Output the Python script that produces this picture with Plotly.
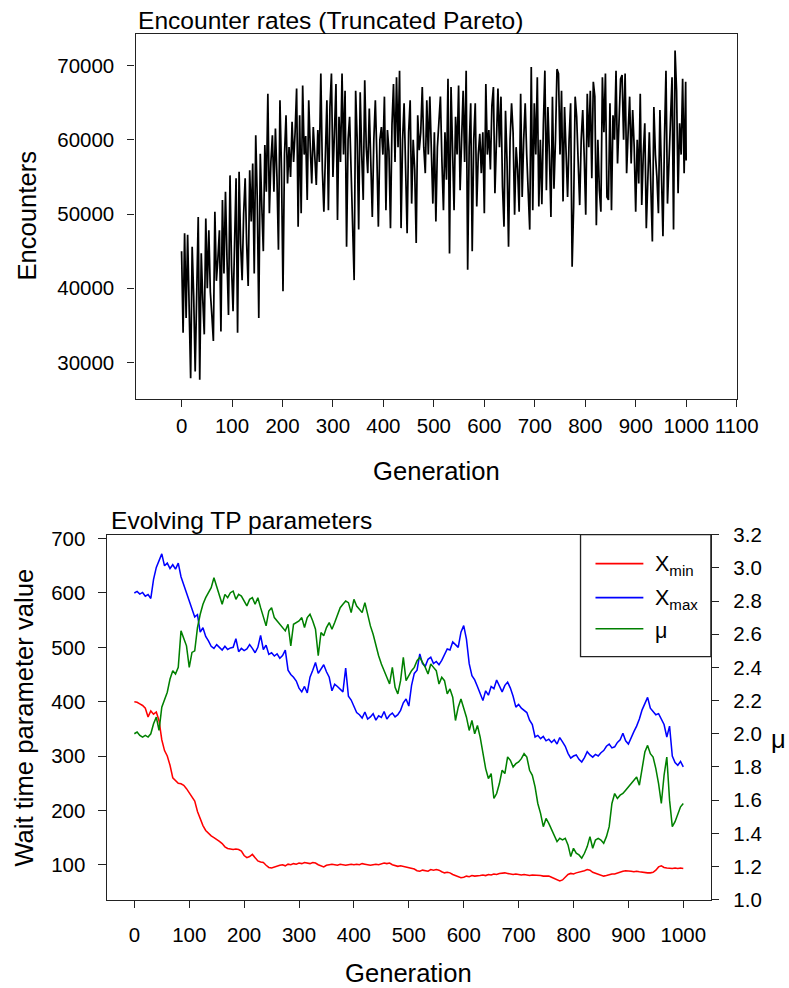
import plotly.graph_objects as go

# ---------------- data ----------------
# Top panel: encounters per generation (every 3rd generation)
gen_top = list(range(0, 1000, 3)) + [1000]
encounters = [
    45000, 34000, 47400, 36000, 47200, 38000, 27900, 45600, 39000, 28800,
    40000, 49600, 27700, 44700, 38500, 33800, 49400, 40000, 47800, 39500,
    36400, 32900, 50300, 41000, 44000, 47800, 34200, 51900, 42000, 53000,
    44000, 36400, 55200, 43000, 36900, 47000, 54800, 34000, 55700, 46000,
    41100, 50000, 54800, 46000, 40300, 55900, 49000, 56800, 42000, 60600,
    52000, 36000, 58100, 51000, 45000, 59300, 53000, 66200, 50100, 57000,
    60600, 53000, 61500, 55000, 45200, 65300, 56000, 39600, 58000, 63300,
    54100, 59000, 55000, 62400, 57000, 61000, 66900, 48300, 63300, 50100,
    67300, 58000, 60500, 51900, 65300, 59000, 54100, 61700, 57500, 53900,
    61300, 57000, 68900, 56000, 50300, 59000, 65300, 50500, 64400, 68900,
    55000, 61000, 67500, 49200, 63100, 57000, 68900, 58000, 66600, 45600,
    60000, 63100, 56000, 49200, 41100, 66600, 60000, 47900, 66400, 58000,
    51900, 68000, 59000, 55500, 64200, 57000, 49600, 60000, 65300, 58000,
    48300, 60000, 61700, 58000, 65800, 50500, 61300, 58500, 48100, 62000,
    67500, 57000, 68400, 59000, 69300, 48100, 60000, 64900, 57000, 47400,
    61000, 65300, 51400, 60000, 56000, 46100, 63300, 58600, 61000, 67100,
    59000, 55500, 65300, 58000, 65800, 60000, 51400, 61000, 49000, 59000,
    63100, 65800, 57000, 50500, 61000, 54600, 68200, 44700, 67100, 58000,
    50500, 63100, 58000, 67300, 53200, 60000, 66600, 57000, 69300, 42500,
    59000, 64900, 45000, 60000, 64900, 51000, 58000, 60800, 55500, 61000,
    50100, 67500, 58000, 61300, 56000, 64600, 67100, 52800, 60000, 66900,
    59000, 65800, 53700, 48300, 63900, 57000, 45600, 60000, 64900, 61000,
    49900, 59000, 56000, 50300, 66200, 52300, 60000, 64900, 58000, 53200,
    47900, 69800, 50500, 64900, 58000, 68400, 51000, 60000, 51300, 62000,
    69300, 53200, 64400, 58000, 49600, 65800, 53400, 60000, 69500, 68900,
    58000, 66600, 51700, 64400, 57000, 52300, 60000, 64900, 42900, 51000,
    65800, 63100, 57000, 51200, 60000, 64000, 57700, 49900, 66200, 59000,
    66600, 54800, 67800, 65800, 48500, 60000, 53200, 50300, 68400, 61000,
    68900, 52300, 51900, 64900, 50500, 63300, 60000, 69300, 56800, 62000,
    68200, 68700, 60000, 68900, 55500, 61000, 65800, 56800, 64000, 59000,
    50300, 60000, 54100, 66200, 51200, 58000, 62200, 48100, 56400, 61000,
    53700, 46300, 64400, 58000, 55000, 50100, 64000, 57000, 47000, 60000,
    69300, 51400, 58000, 63700, 68400, 47900, 72000, 66600, 52800, 62200,
    58000, 68200, 55500, 67800, 57200,
]

# Bottom panel: evolving TP parameters (every 5th generation)
gen_bot = list(range(0, 1001, 5))
x_min = [
    400, 399, 396, 393, 388, 372, 383, 377, 381, 365,
    330, 310, 300, 283, 260, 254, 250, 249, 246, 240,
    232, 225, 217, 198, 184, 172, 163, 157, 153, 150,
    147, 143, 139, 133, 130, 129, 128, 129, 128, 125,
    117, 113, 115, 119, 112, 107, 105, 104, 99, 95,
    94, 96, 98, 99, 100, 98, 101, 100, 102, 101,
    103, 102, 104, 103, 102, 104, 103, 100, 98, 96,
    99, 100, 101, 100, 99, 101, 100, 99, 100, 101,
    100, 101, 100, 102, 101, 100, 99, 100, 101, 100,
    101, 103, 102, 103, 100, 98, 97, 98, 97, 96,
    95, 94, 92, 89, 88, 90, 89, 88, 91, 90,
    91, 90, 87, 85, 86, 85, 82, 80, 78, 76,
    77, 79, 78, 80, 79, 79, 80, 81, 80, 82,
    81, 83, 82, 84, 85, 85, 84, 83, 82, 83,
    82, 81, 82, 81, 80, 81, 81, 80, 80, 79,
    79, 79, 77, 75, 73, 70, 72, 78, 82, 84,
    83, 85, 86, 88, 89, 91, 90, 86, 84, 82,
    81, 79, 80, 82, 83, 83, 85, 86, 88, 89,
    89, 88, 87, 88, 87, 86, 86, 85, 85, 86,
    90, 96, 98, 95, 94, 93, 93, 94, 93, 94,
    93,
]
x_max = [
    600, 603, 598, 601, 594, 597, 590, 625, 647, 660,
    672, 650, 655, 645, 652, 644, 655, 630, 615, 598,
    585, 572, 556, 560, 528, 536, 520, 512, 502, 498,
    505, 500, 495, 502, 496, 499, 500, 516, 492, 498,
    494, 497, 505, 498, 490, 500, 522, 496, 504, 487,
    490, 484, 488, 480, 485, 495, 458, 450, 445, 438,
    425, 418, 428, 416, 445, 458, 472, 452, 460, 468,
    455, 445, 420, 432, 428, 422, 418, 462, 410, 403,
    392, 380, 376, 370, 381, 368, 372, 378, 366, 374,
    371, 382, 368, 375, 379, 372, 376, 384, 398, 405,
    392, 430, 452, 458, 488, 470, 465, 478, 482, 470,
    474, 468, 476, 486, 497, 495, 510, 505, 500, 528,
    540, 515, 470, 448, 440, 428, 415, 402, 420, 412,
    428, 424, 440, 428, 418, 430, 436, 425, 410, 390,
    395, 388, 384, 380, 366, 358, 335, 338, 332, 336,
    328, 331, 325, 330, 322, 334, 326, 318, 305, 296,
    300, 302, 294, 289, 297, 308, 302, 298, 303, 300,
    306, 310, 318, 322, 315, 317, 325, 330, 342, 328,
    322, 335, 345, 355, 368, 385, 398, 408, 388, 382,
    376, 378, 368, 358, 335, 355, 300, 288, 283, 290,
    280,
]
mu = [
    2.00, 2.01, 1.99, 1.98, 1.99, 1.98, 2.00, 2.06, 2.10, 2.02,
    2.16, 2.21, 2.25, 2.33, 2.38, 2.36, 2.40, 2.62, 2.58, 2.53,
    2.40, 2.49, 2.50, 2.64, 2.72, 2.78, 2.82, 2.85, 2.88, 2.94,
    2.89, 2.84, 2.78, 2.84, 2.82, 2.85, 2.86, 2.81, 2.84, 2.83,
    2.80, 2.77, 2.81, 2.82, 2.78, 2.82, 2.76, 2.71, 2.65, 2.74,
    2.76, 2.70, 2.68, 2.66, 2.64, 2.62, 2.66, 2.53, 2.66, 2.67,
    2.68, 2.70, 2.64, 2.70, 2.72, 2.68, 2.63, 2.47, 2.61, 2.59,
    2.64, 2.67, 2.63, 2.67, 2.72, 2.76, 2.78, 2.80, 2.79, 2.73,
    2.81, 2.77, 2.75, 2.73, 2.79, 2.72, 2.65, 2.60, 2.53, 2.47,
    2.42, 2.38, 2.35, 2.30, 2.40, 2.28, 2.24, 2.32, 2.46, 2.32,
    2.35, 2.38, 2.40, 2.44, 2.46, 2.43, 2.40, 2.36, 2.42, 2.40,
    2.38, 2.30, 2.34, 2.32, 2.24, 2.27, 2.22, 2.08, 2.16, 2.21,
    2.15, 2.10, 2.02, 2.08, 2.00, 2.05, 1.98, 1.87, 1.79, 1.73,
    1.76, 1.61, 1.64, 1.70, 1.78, 1.76, 1.86, 1.84, 1.80, 1.82,
    1.83, 1.85, 1.88, 1.86, 1.78, 1.75, 1.68, 1.58, 1.52, 1.44,
    1.49, 1.46, 1.42, 1.39, 1.35, 1.37, 1.36, 1.37, 1.33, 1.26,
    1.31, 1.28, 1.27, 1.25, 1.28, 1.32, 1.38, 1.31, 1.36, 1.37,
    1.36, 1.34, 1.38, 1.44, 1.58, 1.64, 1.61, 1.63, 1.64, 1.66,
    1.68, 1.70, 1.72, 1.74, 1.69, 1.79, 1.89, 1.93, 1.88, 1.86,
    1.79, 1.70, 1.58, 1.75, 1.86, 1.60, 1.44, 1.47, 1.52, 1.56,
    1.58,
]

top_xticks = [0, 100, 200, 300, 400, 500, 600, 700, 800, 900, 1000, 1100]
top_yticks = [30000, 40000, 50000, 60000, 70000]
bot_xticks = [0, 100, 200, 300, 400, 500, 600, 700, 800, 900, 1000]
bot_yticks = [100, 200, 300, 400, 500, 600, 700]
mu_ticks = [1.0, 1.2, 1.4, 1.6, 1.8, 2.0, 2.2, 2.4, 2.6, 2.8, 3.0, 3.2]

# ---------------- figure ----------------
# The page is photographed slightly shrunk; positions below are given in
# picture pixels and converted to page pixels.
W, H = 808, 988
S = 789 / 808          # page -> picture scale
OFF_Y = 11.5           # vertical letterbox offset in picture pixels
FONT = "Liberation Sans, Arial, sans-serif"


def fx(t):
    return (t / S) / W


def fy(t):
    return 1 - ((t - OFF_Y) / S) / H


def pz(v):
    return v / S


fig = go.Figure()
fig.add_trace(go.Scatter(x=gen_top, y=encounters, mode="lines",
                         line=dict(color="black", width=pz(1.7)),
                         xaxis="x", yaxis="y", showlegend=False))
fig.add_trace(go.Scatter(x=gen_bot, y=x_min, mode="lines", name="X<sub>min</sub>",
                         line=dict(color="#ff0000", width=pz(1.5)),
                         xaxis="x2", yaxis="y2", showlegend=False))
fig.add_trace(go.Scatter(x=gen_bot, y=x_max, mode="lines", name="X<sub>max</sub>",
                         line=dict(color="#0000ff", width=pz(1.5)),
                         xaxis="x2", yaxis="y2", showlegend=False))
fig.add_trace(go.Scatter(x=gen_bot, y=mu, mode="lines", name="μ",
                         line=dict(color="#008000", width=pz(1.5)),
                         xaxis="x2", yaxis="y3", showlegend=False))

axis_common = dict(showline=True, linecolor="#222", linewidth=pz(1.3),
                   ticks="outside", ticklen=pz(7), tickwidth=pz(1.3), tickcolor="#222",
                   showgrid=False, zeroline=False,
                   tickfont=dict(size=pz(20), color="black", family=FONT))

fig.update_layout(
    width=W, height=H,
    margin=dict(l=0, r=0, t=0, b=0),
    paper_bgcolor="white", plot_bgcolor="white",
    font=dict(family=FONT, color="black"),
    showlegend=False,
    xaxis=dict(domain=[fx(136), fx(739)], anchor="y", range=[-91, 1101],
               tickvals=top_xticks, mirror=True, ticklabelstandoff=1, **axis_common),
    yaxis=dict(domain=[fy(398), fy(33)], anchor="x", range=[25150, 74300],
               tickvals=top_yticks, tickformat="d", mirror=True,
               ticklabelstandoff=9, **axis_common),
    xaxis2=dict(domain=[fx(107), fx(712.7)], anchor="y2", range=[-50.3, 1050.3],
                tickvals=bot_xticks, mirror=True, ticklabelstandoff=9, **axis_common),
    yaxis2=dict(domain=[fy(899), fy(534)], anchor="x2", range=[35.6, 707.4],
                tickvals=bot_yticks, mirror=False, ticklabelstandoff=9, **axis_common),
    yaxis3=dict(domain=[fy(899), fy(534)], anchor="x2", overlaying="y2", side="right",
                range=[1.0, 3.2], tickvals=mu_ticks, tickformat=".1f",
                ticklabelstandoff=10, **axis_common),
)

ann = []


def add_text(text, x, y, size, xanchor="center", yanchor="middle", angle=0):
    ann.append(dict(text=text, x=fx(x), y=fy(y), xref="paper", yref="paper",
                    showarrow=False, xanchor=xanchor, yanchor=yanchor,
                    textangle=angle, font=dict(size=pz(size), color="black", family=FONT)))


add_text("Encounter rates (Truncated Pareto)", 136, 20, 24, xanchor="left")
add_text("Encounters", 27, 215, 25, angle=-90)
add_text("Generation", 437.5, 470, 25)
add_text("Evolving TP parameters", 109, 520, 24, xanchor="left")
add_text("Wait time parameter value", 24, 717, 25, angle=-90)
add_text("Generation", 410, 972, 25)
add_text("μ", 780, 738, 25)

# legend (box, sample lines, labels)
shapes = [dict(type="rect", xref="paper", yref="paper",
               x0=fx(582), x1=fx(712.7), y0=fy(656), y1=fy(534),
               line=dict(color="#222", width=pz(1.3)), fillcolor="white", layer="above")]
legend_items = [("X<sub>min</sub>", "#ff0000", 563), ("X<sub>max</sub>", "#0000ff", 597),
                ("μ", "#008000", 628)]
for label, col, yy in legend_items:
    shapes.append(dict(type="line", xref="paper", yref="paper",
                       x0=fx(597), x1=fx(645), y0=fy(yy), y1=fy(yy),
                       line=dict(color=col, width=pz(1.5)), layer="above"))
    add_text(label, 655, yy + 2, 21, xanchor="left")

fig.update_layout(annotations=ann, shapes=shapes)

pin_page = (
    "document.documentElement.style.margin='0';"
    "document.body.style.margin='0';"
    "document.body.style.overflow='hidden';"
    "var g=document.querySelector('.plotly-graph-div');"
    "g.style.position='fixed';g.style.left='0px';g.style.top='0px';"
)
fig.write_html("out.html", config={"displayModeBar": False}, post_script=pin_page)
